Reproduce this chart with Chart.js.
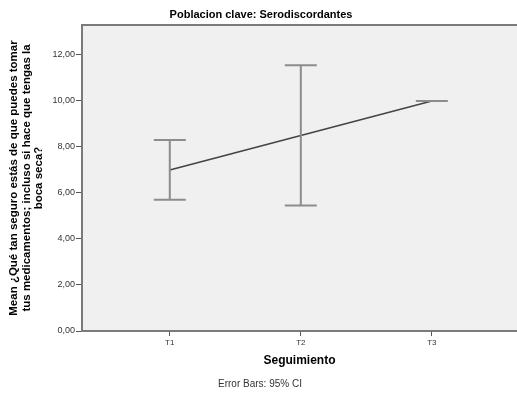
<!DOCTYPE html>
<html>
<head>
<meta charset="utf-8">
<script src="https://cdn.jsdelivr.net/npm/chart.js@4/dist/chart.umd.min.js"></script>
<style>
  body { margin: 0; background: #fff; }
  #wrap { width: 517px; height: 393px; }
</style>
</head>
<body>
<div id="wrap"><canvas id="myChart" width="517" height="393"></canvas></div>
<script>
// values
const categories = ["T1", "T2", "T3"];
const means = [7.0, 8.5, 10.0];
const ciLow = [5.7, 5.45, 10.0];
const ciHigh = [8.3, 11.55, 10.0];
const yTicks = [0, 2, 4, 6, 8, 10, 12];

const chartTitle = "Poblacion clave: Serodiscordantes";
const yTitle = [
  "Mean ¿Qué tan seguro estás de que puedes tomar",
  "tus medicamentos; incluso si hace que tengas la",
  "boca seca?"
];
const xTitle = "Seguimiento";
const caption = "Error Bars: 95% CI";

const font = "'Liberation Sans', Arial, sans-serif";

let points = [];
for (let i = 0; i < categories.length; i++) {
  points.push({ x: i + 1, y: means[i] });
}

// grey box behind the plot + top border
const plotBox = {
  id: "plotBox",
  beforeDraw(chart) {
    const a = chart.chartArea;
    const ctx = chart.ctx;
    ctx.save();
    ctx.fillStyle = "#f0f0f0";
    ctx.fillRect(a.left, a.top, a.right - a.left, a.bottom - a.top);
    ctx.strokeStyle = "#7a7a7a";
    ctx.lineWidth = 2;
    ctx.beginPath();
    ctx.moveTo(a.left, a.top);
    ctx.lineTo(a.right, a.top);
    ctx.stroke();
    ctx.restore();
  }
};

// 95% CI whiskers
const errorBars = {
  id: "errorBars",
  afterDatasetsDraw(chart) {
    const ctx = chart.ctx;
    const xs = chart.scales.x;
    const ys = chart.scales.y;
    ctx.save();
    ctx.strokeStyle = "#8c8c8c";
    ctx.lineWidth = 2;
    for (let i = 0; i < categories.length; i++) {
      const x = xs.getPixelForValue(i + 1);
      const lo = ys.getPixelForValue(ciLow[i]);
      const hi = ys.getPixelForValue(ciHigh[i]);
      ctx.beginPath();
      ctx.moveTo(x, lo);
      ctx.lineTo(x, hi);
      ctx.moveTo(x - 16, lo);
      ctx.lineTo(x + 16, lo);
      ctx.moveTo(x - 16, hi);
      ctx.lineTo(x + 16, hi);
      ctx.stroke();
    }
    ctx.restore();
  }
};

// titles
const texts = {
  id: "texts",
  afterDraw(chart) {
    const ctx = chart.ctx;
    const a = chart.chartArea;
    ctx.save();
    ctx.fillStyle = "#000";
    ctx.textAlign = "center";
    ctx.textBaseline = "middle";
    ctx.font = "bold 11px " + font;
    ctx.fillText(chartTitle, 261, 15);

    ctx.font = "bold 12px " + font;
    ctx.fillText(xTitle, (a.left + a.right) / 2, 361);

    ctx.fillStyle = "#333";
    ctx.font = "10px " + font;
    ctx.fillText(caption, 260, 384);

    ctx.fillStyle = "#000";
    ctx.font = "bold 11.5px " + font;
    ctx.translate(0, (a.top + a.bottom) / 2);
    ctx.rotate(-Math.PI / 2);
    for (let i = 0; i < yTitle.length; i++) {
      ctx.fillText(yTitle[i], 0, 14 + i * 12.5);
    }
    ctx.restore();
  }
};

let covidChart = new Chart(document.getElementById("myChart"), {
  type: "scatter",
  data: {
    datasets: [{
      data: points,
      showLine: true,
      borderColor: "#444444",
      borderWidth: 1.5,
      pointRadius: 0,
      pointHoverRadius: 0
    }]
  },
  options: {
    responsive: false,
    animation: false,
    layout: { padding: { top: 25, right: 0, bottom: 0, left: 0 } },
    plugins: {
      legend: { display: false },
      tooltip: { enabled: false }
    },
    scales: {
      x: {
        type: "linear",
        min: 0.33,
        max: 3.65,
        afterBuildTicks(scale) {
          scale.ticks = categories.map((c, i) => ({ value: i + 1 }));
        },
        afterFit(scale) { scale.height = 62; },
        ticks: {
          callback: (v) => categories[Math.round(v) - 1],
          font: { family: font, size: 8 },
          color: "#333",
          padding: 2,
          maxRotation: 0
        },
        grid: { drawOnChartArea: false, tickLength: 5, color: "#555", lineWidth: 1 },
        border: { color: "#7a7a7a", width: 2 }
      },
      y: {
        min: 0,
        max: 13.3,
        afterBuildTicks(scale) {
          scale.ticks = yTicks.map(v => ({ value: v }));
        },
        afterFit(scale) { scale.width = 82; },
        ticks: {
          callback: (v) => v.toFixed(2).replace(".", ","),
          font: { family: font, size: 9 },
          color: "#333",
          padding: 1
        },
        grid: { drawOnChartArea: false, tickLength: 6, color: "#555", lineWidth: 1 },
        border: { color: "#7a7a7a", width: 2 }
      }
    }
  },
  plugins: [plotBox, errorBars, texts]
});
</script>
</body>
</html>
